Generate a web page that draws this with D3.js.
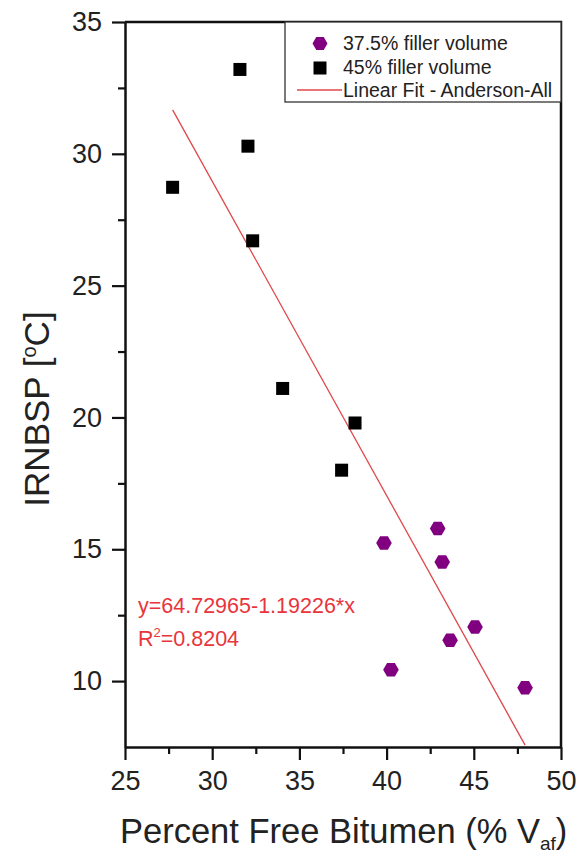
<!DOCTYPE html>
<html>
<head>
<meta charset="utf-8">
<script src="https://cdn.jsdelivr.net/npm/d3@7"></script>
<style>
  body { margin: 0; background: #fff; }
  text { font-family: "Liberation Sans", Arial, sans-serif; }
</style>
</head>
<body>
<div id="chart"></div>
<script>
// 45% filler volume (squares)
const squareX = [27.73, 31.59, 32.05, 32.32, 34.04, 38.19, 37.42];
const squareY = [28.73, 33.2, 30.29, 26.7, 21.1, 19.79, 18.0];

// 37.5% filler volume (hexagons)
const hexX = [39.85, 42.93, 43.19, 45.07, 43.64, 40.25, 47.94];
const hexY = [15.24, 15.79, 14.52, 12.05, 11.55, 10.43, 9.75];

const fitIntercept = 64.72965;
const fitSlope = -1.19226;

const xTicks = [25, 30, 35, 40, 45, 50];
const xMinorTicks = [27.5, 32.5, 37.5, 42.5, 47.5];
const yTicks = [10, 15, 20, 25, 30, 35];
const yMinorTicks = [12.5, 17.5, 22.5, 27.5, 32.5];

const legendLabels = ["37.5% filler volume", "45% filler volume", "Linear Fit - Anderson-All"];

const width = 580;
const height = 855;
const margin = { top: 22, right: 19, bottom: 108, left: 125 };

const svg = d3
  .create("svg")
  .attr("width", width)
  .attr("height", height)
  .attr("viewBox", [0, 0, width, height]);

svg.append("rect").attr("width", width).attr("height", height).attr("fill", "#fff");

const x = d3.scaleLinear().domain([25, 50]).range([margin.left, width - margin.right]);
const y = d3.scaleLinear().domain([7.5, 35]).range([height - margin.bottom, margin.top]);

const purple = "#800080";
const red = "#e8353b";

// hexagon path, flat top
const hexPath = (r) => {
  const pts = d3.range(6).map((i) => {
    const a = (Math.PI / 3) * i;
    return [r * Math.cos(a), r * Math.sin(a)];
  });
  return "M" + pts.map((p) => p.join(",")).join("L") + "Z";
};

// fit line over the data range
const allX = squareX.concat(hexX);
const fitX = [d3.min(allX), d3.max(allX)];

svg
  .append("line")
  .attr("x1", x(fitX[0]))
  .attr("x2", x(fitX[1]))
  .attr("y1", y(fitIntercept + fitSlope * fitX[0]))
  .attr("y2", y(fitIntercept + fitSlope * fitX[1]))
  .attr("stroke", "#e0474a")
  .attr("stroke-width", 1.3);

// squares
svg
  .append("g")
  .selectAll("rect")
  .data(squareX.map((d, i) => [d, squareY[i]]))
  .join("rect")
  .attr("x", (d) => x(d[0]) - 6.5)
  .attr("y", (d) => y(d[1]) - 6.5)
  .attr("width", 13)
  .attr("height", 13)
  .attr("fill", "#000");

// hexagons
svg
  .append("g")
  .selectAll("path")
  .data(hexX.map((d, i) => [d, hexY[i]]))
  .join("path")
  .attr("transform", (d) => `translate(${x(d[0])},${y(d[1])})`)
  .attr("d", hexPath(7.8))
  .attr("fill", purple);

// axes
const axisFont = (g) =>
  g.call((g) => g.selectAll("text").attr("font-size", 27).attr("fill", "#222"))
    .call((g) => g.selectAll("line").attr("stroke", "#111").attr("stroke-width", 2.2))
    .call((g) => g.select(".domain").attr("stroke", "#111").attr("stroke-width", 2.5));

svg
  .append("g")
  .attr("transform", `translate(0,${height - margin.bottom})`)
  .call(d3.axisBottom(x).tickValues(xMinorTicks).tickSize(7).tickFormat(""))
  .call((g) => g.select(".domain").remove())
  .call((g) => g.selectAll("line").attr("stroke", "#111").attr("stroke-width", 2.2));

svg
  .append("g")
  .attr("transform", `translate(0,${height - margin.bottom})`)
  .call(d3.axisBottom(x).tickValues(xTicks).tickSize(13).tickSizeOuter(0).tickPadding(11))
  .call(axisFont);

svg
  .append("g")
  .attr("transform", `translate(${margin.left},0)`)
  .call(d3.axisLeft(y).tickValues(yMinorTicks).tickSize(7).tickFormat(""))
  .call((g) => g.select(".domain").remove())
  .call((g) => g.selectAll("line").attr("stroke", "#111").attr("stroke-width", 2.2));

svg
  .append("g")
  .attr("transform", `translate(${margin.left},0)`)
  .call(d3.axisLeft(y).tickValues(yTicks).tickSize(13).tickSizeOuter(0).tickPadding(10))
  .call(axisFont);

// top & right frame
svg
  .append("path")
  .attr("d", `M${x(25)},${y(35)}H${x(50)}V${y(7.5)}`)
  .attr("fill", "none")
  .attr("stroke", "#111")
  .attr("stroke-width", 2.5);

// legend
const legend = svg.append("g");
legend
  .append("rect")
  .attr("x", 285)
  .attr("y", y(35))
  .attr("width", x(50) - 285)
  .attr("height", 80)
  .attr("fill", "#fff")
  .attr("stroke", "#333")
  .attr("stroke-width", 1.3);

legend
  .append("path")
  .attr("transform", "translate(320,43.5)")
  .attr("d", hexPath(7.5))
  .attr("fill", purple);

legend
  .append("rect")
  .attr("x", 320 - 6.5)
  .attr("y", 68 - 6.5)
  .attr("width", 13)
  .attr("height", 13)
  .attr("fill", "#000");

legend
  .append("line")
  .attr("x1", 297)
  .attr("x2", 342)
  .attr("y1", 90)
  .attr("y2", 90)
  .attr("stroke", "#e0474a")
  .attr("stroke-width", 1.3);

legend
  .selectAll("text")
  .data(legendLabels)
  .join("text")
  .attr("x", 343)
  .attr("y", (d, i) => 50 + i * 23.6)
  .attr("font-size", 19.5)
  .attr("fill", "#222")
  .text((d) => d);

// equation
svg
  .append("text")
  .attr("x", 138)
  .attr("y", 613)
  .attr("font-size", 21.5)
  .attr("fill", red)
  .text(`y=${fitIntercept}${fitSlope}*x`);

const r2 = svg
  .append("text")
  .attr("x", 138)
  .attr("y", 646)
  .attr("font-size", 21.5)
  .attr("fill", red);
r2.append("tspan").text("R");
r2.append("tspan").attr("font-size", 13).attr("dy", -9).text("2");
r2.append("tspan").attr("dy", 9).text("=0.8204");

// axis titles
const xTitle = svg
  .append("text")
  .attr("x", 120)
  .attr("y", 843)
  .attr("font-size", 34.5)
  .attr("fill", "#222");
xTitle.append("tspan").text("Percent Free Bitumen (% V");
xTitle.append("tspan").attr("font-size", 19).attr("dy", 7).text("af");
xTitle.append("tspan").attr("dy", -7).text(")");

const yTitle = svg
  .append("text")
  .attr("transform", "translate(49,409) rotate(-90)")
  .attr("text-anchor", "middle")
  .attr("font-size", 35)
  .attr("fill", "#222");
yTitle.append("tspan").text("IRNBSP [");
yTitle.append("tspan").attr("font-size", 20).attr("dy", -13).text("o");
yTitle.append("tspan").attr("dy", 13).text("C]");

document.getElementById("chart").appendChild(svg.node());
</script>
</body>
</html>
